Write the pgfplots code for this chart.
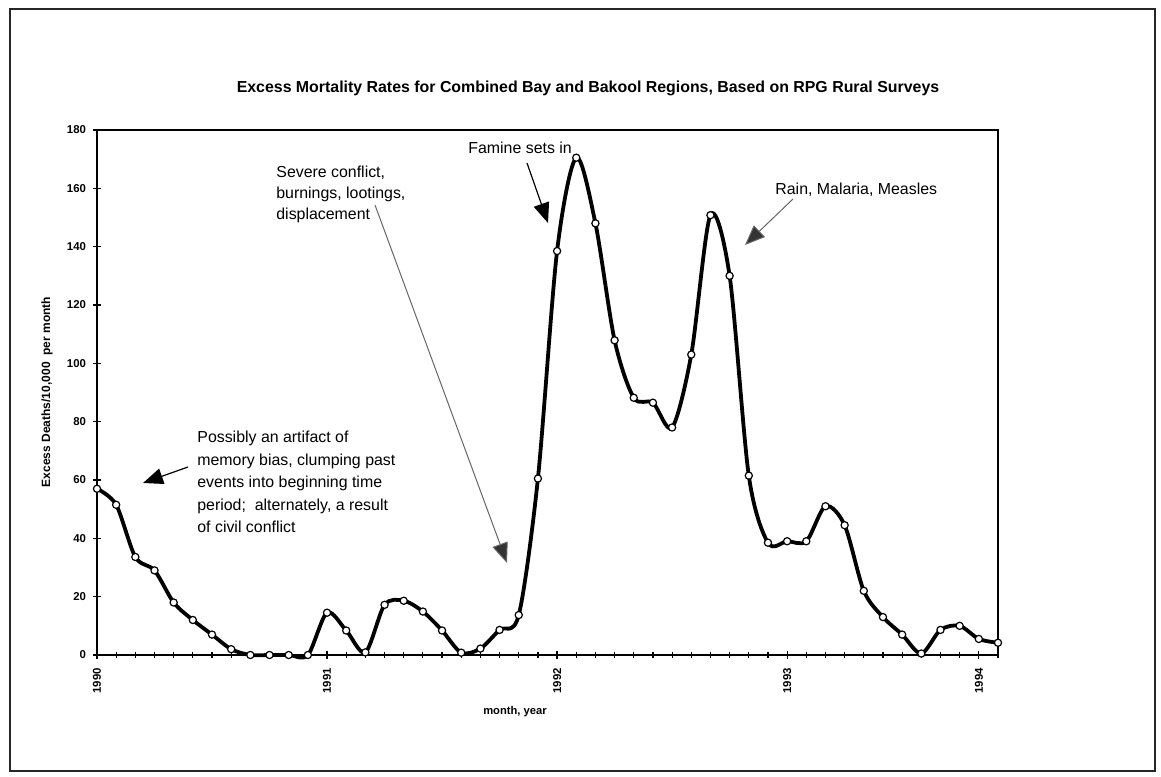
\documentclass[border=0pt]{standalone}
\usepackage{fontspec}
\setmainfont{Liberation Sans}
\usepackage{pgfplots}
\pgfplotsset{compat=1.18}
\usetikzlibrary{arrows.meta}

\begin{document}
\begin{tikzpicture}
\path[use as bounding box] (0,0) rectangle (580.5pt,388pt);
\draw[line width=0.9pt, black!85] (5pt,2.5pt) rectangle (577.5pt,383.5pt);

\begin{axis}[
  at={(48.5pt,60.5pt)}, anchor=south west,
  scale only axis, width=450.5pt, height=262.5pt,
  xmin=0, xmax=47, ymin=0, ymax=180,
  axis line style={line width=1.2pt},
  clip=false,
  tick pos=left, tick align=center,
  major tick length=4pt, minor tick length=3pt,
  every tick/.style={black, line width=0.6pt},
  xtick={0,12,24,36,46},
  xticklabels={1990,1991,1992,1993,1994},
  minor xtick={0,...,47},
  ytick={0,20,...,180},
  /pgf/number format/assume math mode=true,
  tick label style={font=\fontsize{5.7}{6}\selectfont\bfseries},
  x tick label style={rotate=90, anchor=east, xshift=-1pt},
]
\addplot[black, line width=1.9pt, smooth, tension=0.5,
  mark=*, mark size=1.8pt, mark options={fill=white, draw=black, line width=0.6pt}]
  coordinates {
  (0,57) (1,51.5) (2,33.6) (3,29) (4,18) (5,12) (6,7) (7,2)
  (8,0) (9,0) (10,0) (11,0) (12,14.5) (13,8.4) (14,0.9) (15,17.2)
  (16,18.6) (17,14.9) (18,8.4) (19,0.8) (20,2.2) (21,8.6) (22,13.7) (23,60.5)
  (24,138.5) (25,170.5) (26,148) (27,107.9) (28,88.2) (29,86.5) (30,78) (31,103)
  (32,150.8) (33,130) (34,61.5) (35,38.5) (36,39) (37,39) (38,51) (39,44.5)
  (40,22) (41,13) (42,7) (43,0.5) (44,8.6) (45,10) (46,5.5) (47,4.2)
  };
\end{axis}

% title and axis labels
\node[font=\fontsize{7.95}{9}\selectfont\bfseries] at (294pt,344pt)
  {Excess Mortality Rates for Combined Bay and Bakool Regions, Based on RPG Rural Surveys};
\node[font=\fontsize{6}{7}\selectfont\bfseries, rotate=90] at (23.5pt,192pt)
  {Excess Deaths/10,000\ \ per month};
\node[font=\fontsize{5.6}{6}\selectfont\bfseries] at (257.5pt,32pt) {month, year};

% annotations
\node[anchor=north west, align=left, inner sep=0pt,
  font=\fontsize{7.95}{11.25}\selectfont] at (98.5pt,172.5pt)
  {Possibly an artifact of\\memory bias, clumping past\\events into beginning time\\period;\ \ alternately, a result\\of civil conflict};
\draw[black, line width=0.6pt, -{Triangle[length=10pt,width=8pt]}] (94pt,154.5pt) -- (71.5pt,146.5pt);

\draw[black!60, line width=0.5pt, -{Triangle[length=10pt,width=8pt,fill=black!80]}] (187.5pt,285.5pt) -- (253.5pt,106.5pt);
\node[anchor=north west, align=left, inner sep=0pt,
  font=\fontsize{7.95}{10.5}\selectfont] at (138pt,305pt)
  {Severe conflict,\\burnings, lootings,\\displacement};

\node[anchor=west, inner sep=0pt, font=\fontsize{7.95}{9}\selectfont] at (234pt,314pt) {Famine sets in};
\draw[black, line width=0.6pt, -{Triangle[length=10pt,width=8pt]}] (263.5pt,306.5pt) -- (274pt,276.5pt);

\node[anchor=west, inner sep=0pt, font=\fontsize{7.95}{9}\selectfont] at (387.5pt,293pt) {Rain, Malaria, Measles};
\draw[black!60, line width=0.5pt, -{Triangle[length=10pt,width=8pt,fill=black!80]}] (396.5pt,288.5pt) -- (372.5pt,265.5pt);
\end{tikzpicture}
\end{document}
